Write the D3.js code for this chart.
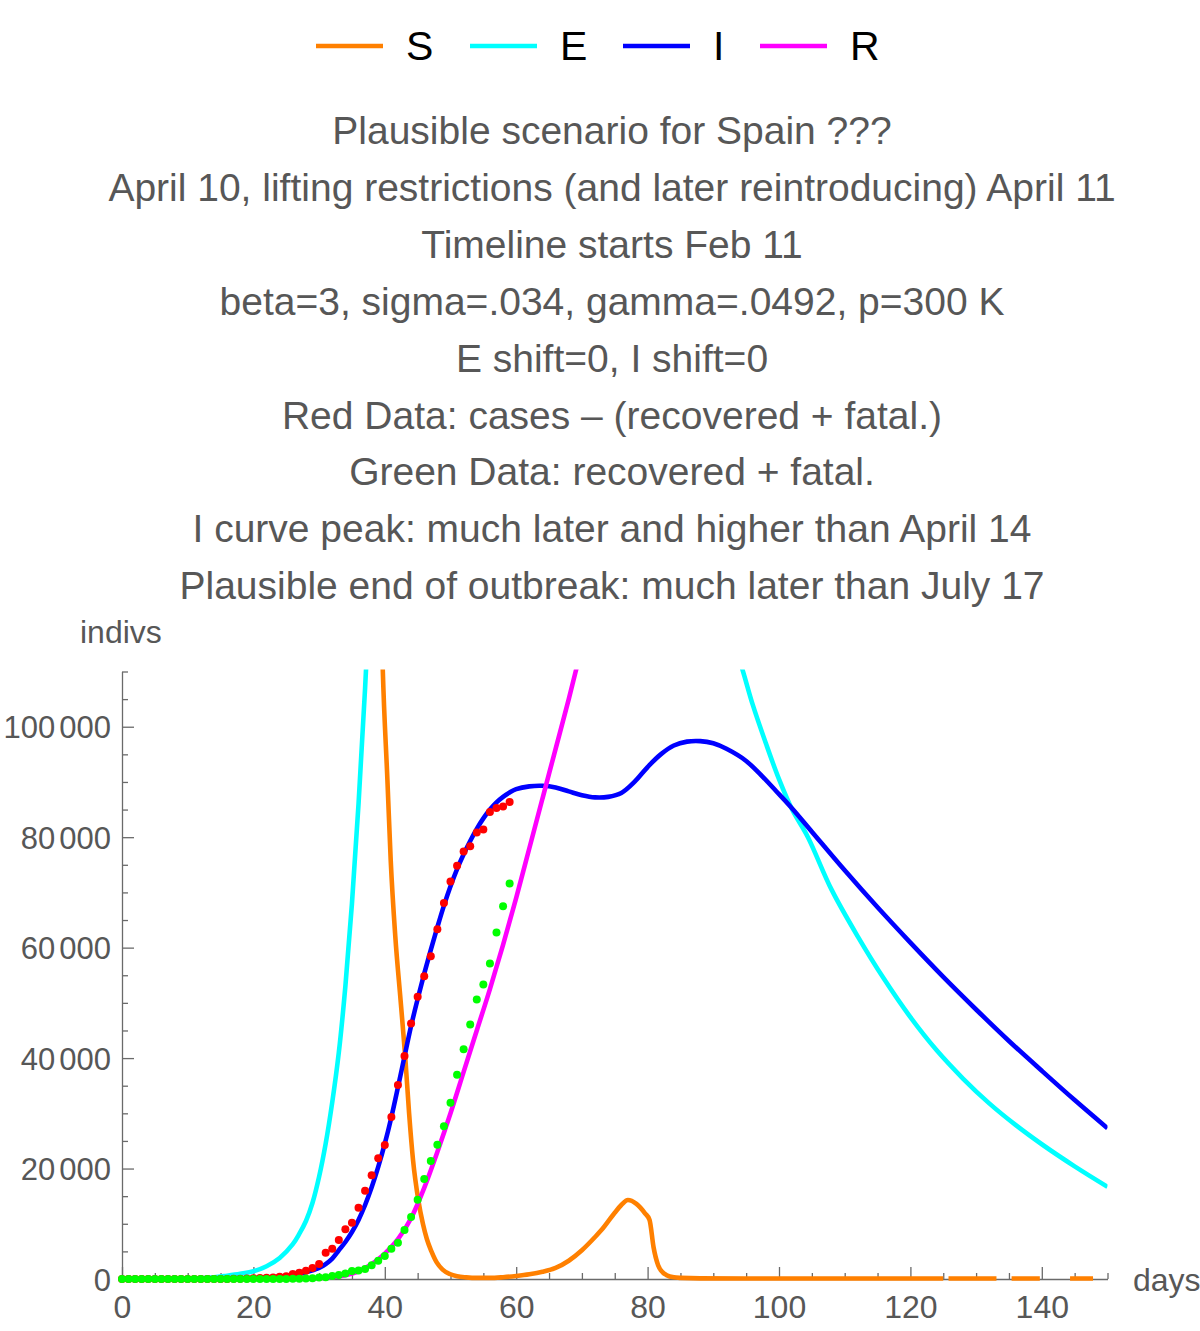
<!DOCTYPE html>
<html>
<head>
<meta charset="utf-8">
<script src="https://cdn.jsdelivr.net/npm/d3@7"></script>
<style>
  html, body { margin: 0; padding: 0; background: #ffffff; }
  svg { display: block; font-family: "Liberation Sans", Arial, sans-serif; }
</style>
</head>
<body>
<svg id="chart" width="1200" height="1331"></svg>
<script>
// ---------------- DATA ----------------
const legendLabels = ["S", "E", "I", "R"];
const seriesColors = ["#ff8000", "#00ffff", "#0000ff", "#ff00ff"];

const titleLines = [
  "Plausible scenario for Spain ???",
  "April 10, lifting restrictions (and later reintroducing) April 11",
  "Timeline starts Feb 11",
  "beta=3, sigma=.034, gamma=.0492, p=300 K",
  "E shift=0, I shift=0",
  "Red Data: cases \u2013 (recovered + fatal.)",
  "Green Data: recovered + fatal.",
  "I curve peak: much later and higher than April 14",
  "Plausible end of outbreak: much later than July 17"
];

const xTickValues = [0, 20, 40, 60, 80, 100, 120, 140];
const xTickLabels = ["0", "20", "40", "60", "80", "100", "120", "140"];
const yTickValues = [0, 20000, 40000, 60000, 80000, 100000];
const yTickLabels = ["0", "20 000", "40 000", "60 000", "80 000", "100 000"];

// S curve (null = gap where the curve dips below the axis)
const sDays = [0, 20, 30, 35, 38, 39, 39.7, 40.4, 40.9, 41.6, 42.4, 43.1, 43.7, 44.3, 45.1, 45.8, 46.4, 47.1, 47.9, 48.8, 49.9, 51, 52.4, 54, 56, 58, 60, 62, 64, 66, 68, 70, 72, 73, 75, 76, 77, 78.3, 79.6, 80.3, 80.9, 81.6, 82.3, 82.9, 84, 85, 88, 95, 105, 115, 125.0, 125.4, 125.8, 133.1, 134.2, 135.4, 139.7, 142, 144.3, 147.8, 149, 150];
const sVals = [300000, 298000, 285000, 250000, 180000, 145000, 110000, 90300, 75800, 62000, 50500, 40400, 30000, 21500, 14300, 10000, 7240, 5000, 3000, 1700, 900, 500, 300, 200, 200, 330, 550, 850, 1300, 2000, 3300, 5200, 7600, 8900, 12000, 13400, 14300, 13600, 11900, 10700, 5800, 2500, 1200, 700, 300, 200, 110, 100, 100, 100, 100, null, 100, 100, null, 100, 100, null, 100, 100, null, null];

// E curve
const eDays = [0, 5, 10, 14, 16, 18, 20, 22, 24, 26, 27, 28, 29, 30, 31, 32, 33, 34, 35, 36, 37, 38, 40, 45, 50, 60, 70, 80, 90, 94, 96, 98, 100, 102, 104.4, 108, 112, 116, 120, 124, 128, 132, 136, 140, 145, 150];
const eVals = [0, 20, 80, 300, 600, 950, 1400, 2300, 3800, 6300, 8200, 10500, 13800, 18500, 24500, 32000, 41000, 53000, 68000, 86000, 107000, 132000, 175000, 240000, 260000, 240000, 200000, 160000, 125000, 112000, 104000, 97000, 90500, 85000, 80000, 70500, 62000, 54300, 47400, 41400, 36300, 31800, 27900, 24400, 20400, 16700];

// I curve
const iDays = [0, 10, 15, 20, 24, 26, 28, 30, 31, 32, 33, 34, 35, 36, 37, 38, 39, 40, 41, 42, 43, 44, 45, 46, 47, 48, 49, 50, 51, 52, 53, 54, 55, 56, 57, 58, 59, 60, 62, 64, 66, 68, 70, 72, 74, 76, 78, 80, 82, 84, 86, 88, 90, 92, 95, 100, 102, 105, 110, 115, 120, 125, 130, 135, 140, 145, 150];
const iVals = [0, 10, 40, 150, 400, 700, 1200, 2000, 2700, 3700, 5200, 6700, 8500, 10700, 13400, 16600, 20300, 24500, 29300, 34700, 40300, 45800, 50700, 55300, 59600, 63700, 67600, 71100, 74200, 76900, 79300, 81500, 83400, 85000, 86300, 87300, 88100, 88700, 89200, 89300, 89000, 88300, 87600, 87200, 87300, 88000, 90000, 92700, 95000, 96600, 97300, 97400, 97000, 96000, 93800, 87800, 85200, 81000, 74000, 67300, 60900, 54700, 48800, 43100, 37700, 32400, 27300];

// R curve
const rDays = [0, 20, 25, 28, 30, 32, 34, 36, 38, 40, 42, 44, 46, 48, 50, 52, 54, 56, 58, 60, 62, 64, 66, 68, 70, 75, 80, 90, 100, 120, 150];
const rVals = [0, 0, 20, 60, 150, 330, 700, 1400, 2700, 4600, 7200, 11000, 16500, 23000, 30000, 37500, 45000, 52500, 60500, 69000, 78000, 87000, 96000, 105000, 114500, 136000, 158000, 200000, 235000, 275000, 300000];

// Red data: cases - (recovered + fatal.), one per day from day 0
const redData = [2, 2, 2, 2, 2, 2, 2, 2, 2, 2, 2, 2, 2, 2, 2, 13, 15, 32, 45, 84, 118, 160, 215, 250, 390, 500, 900, 1140, 1500, 2000, 2715, 4760, 5480, 7060, 9000, 10190, 12900, 15980, 18770, 21850, 24250, 29320, 35110, 40360, 46280, 51100, 54840, 58460, 63350, 68060, 71980, 74840, 77410, 78370, 80850, 81400, 84580, 85300, 85560, 86390];

// Green data: recovered + fatal., one per day from day 0
const greenData = [0, 0, 0, 0, 0, 0, 0, 0, 0, 0, 0, 0, 0, 0, 0, 0, 0, 0, 0, 0, 2, 2, 3, 5, 10, 20, 35, 60, 90, 150, 270, 330, 560, 720, 1000, 1450, 1550, 1800, 2480, 3310, 4160, 5480, 6570, 8870, 11220, 14350, 18100, 21360, 24310, 27640, 31910, 36980, 41580, 46100, 50630, 53340, 57140, 62750, 67510, 71620];

// ---------------- DRAW ----------------
const svg = d3.select("#chart");
const textGray = "#575757";
const axisGray = "#6a6a6a";
const fontFam = '"Liberation Sans", Arial, sans-serif';

const x = d3.scaleLinear().domain([0, 150]).range([122, 1107.5]);
const y = d3.scaleLinear().domain([0, 110000]).range([1279, 671.5]);

// Legend
const legendX = [316, 470, 623, 760];
const leg = svg.append("g");
legendLabels.forEach((lab, i) => {
  leg.append("line")
    .attr("x1", legendX[i]).attr("x2", legendX[i] + 67)
    .attr("y1", 46).attr("y2", 46)
    .attr("stroke", seriesColors[i]).attr("stroke-width", 4.5);
  leg.append("text")
    .attr("x", legendX[i] + 90).attr("y", 60)
    .attr("font-size", 41).attr("fill", "#000")
    .text(lab);
});

// Title lines
svg.append("g").selectAll("text").data(titleLines).join("text")
  .attr("x", 612).attr("y", (d, i) => 144 + i * 56.9)
  .attr("text-anchor", "middle")
  .attr("font-size", 39).attr("fill", textGray)
  .text(d => d);

// Axes
const yMinor = d3.range(0, 110001, 5000).filter(v => v % 20000 !== 0);
const xMinor = d3.range(0, 151, 5).filter(v => v % 20 !== 0);

const yAxisMinor = svg.append("g").attr("transform", `translate(${x(0)},0)`)
  .call(d3.axisLeft(y).tickValues(yMinor).tickSize(-6).tickSizeOuter(0).tickFormat(""));
yAxisMinor.select(".domain").remove();
const yAxis = svg.append("g").attr("transform", `translate(${x(0)},0)`)
  .call(d3.axisLeft(y).tickValues(yTickValues).tickSize(-12).tickSizeOuter(0).tickPadding(11)
    .tickFormat((d, i) => yTickLabels[i]));

const xAxisMinor = svg.append("g").attr("transform", `translate(0,${y(0)})`)
  .call(d3.axisBottom(x).tickValues(xMinor).tickSize(-6).tickSizeOuter(0).tickFormat(""));
xAxisMinor.select(".domain").remove();
const xAxis = svg.append("g").attr("transform", `translate(0,${y(0)})`)
  .call(d3.axisBottom(x).tickValues(xTickValues).tickSize(-12).tickSizeOuter(0).tickPadding(16)
    .tickFormat((d, i) => xTickLabels[i]));

[yAxisMinor, yAxis, xAxisMinor, xAxis].forEach(g => {
  g.selectAll("path,line").attr("stroke", axisGray).attr("stroke-width", 1.3);
  g.selectAll("text").attr("fill", textGray).attr("font-size", 32)
    .attr("font-family", fontFam);
});
// y labels: digit groups separated by a narrow gap
yAxis.selectAll(".tick text").each(function () {
  const t = d3.select(this);
  const parts = t.text().split(" ");
  t.text(null).attr("dy", "0.36em").attr("font-size", 31);
  parts.forEach((p, k) => t.append("tspan").attr("dx", k ? 4 : null).text(p));
});

// axis labels
svg.append("text").attr("x", 80).attr("y", 643).attr("font-size", 32).attr("fill", textGray).text("indivs");
svg.append("text").attr("x", 1133).attr("y", 1291).attr("font-size", 32).attr("fill", textGray).text("days");

// Clip
svg.append("defs").append("clipPath").attr("id", "plotClip")
  .append("rect").attr("x", x(0) - 4).attr("y", y(110000) - 2)
  .attr("width", x(150) - x(0) + 4).attr("height", y(0) - y(110000) + 8);

const plot = svg.append("g").attr("clip-path", "url(#plotClip)");
const smoothLine = d3.line()
  .defined(d => d[1] !== null)
  .x(d => x(d[0])).y(d => y(d[1]))
  .curve(d3.curveCatmullRom.alpha(0.5));
const monoLine = d3.line()
  .defined(d => d[1] !== null)
  .x(d => x(d[0])).y(d => y(d[1]))
  .curve(d3.curveMonotoneX);

const curves = [
  [sDays, sVals, monoLine], [eDays, eVals, smoothLine], [iDays, iVals, smoothLine], [rDays, rVals, monoLine]
];
curves.forEach(([ds, vs, gen], i) => {
  plot.append("path")
    .datum(ds.map((d, k) => [d, vs[k]]))
    .attr("fill", "none")
    .attr("stroke", seriesColors[i])
    .attr("stroke-width", 4.6)
    .attr("stroke-linejoin", "round")
    .attr("d", gen);
});

// Data points
plot.append("g").selectAll("circle").data(redData).join("circle")
  .attr("cx", (d, i) => x(i)).attr("cy", d => y(d)).attr("r", 4).attr("fill", "#ff0000");
plot.append("g").selectAll("circle").data(greenData).join("circle")
  .attr("cx", (d, i) => x(i)).attr("cy", d => y(d)).attr("r", 4).attr("fill", "#00ff00");
</script>
</body>
</html>
